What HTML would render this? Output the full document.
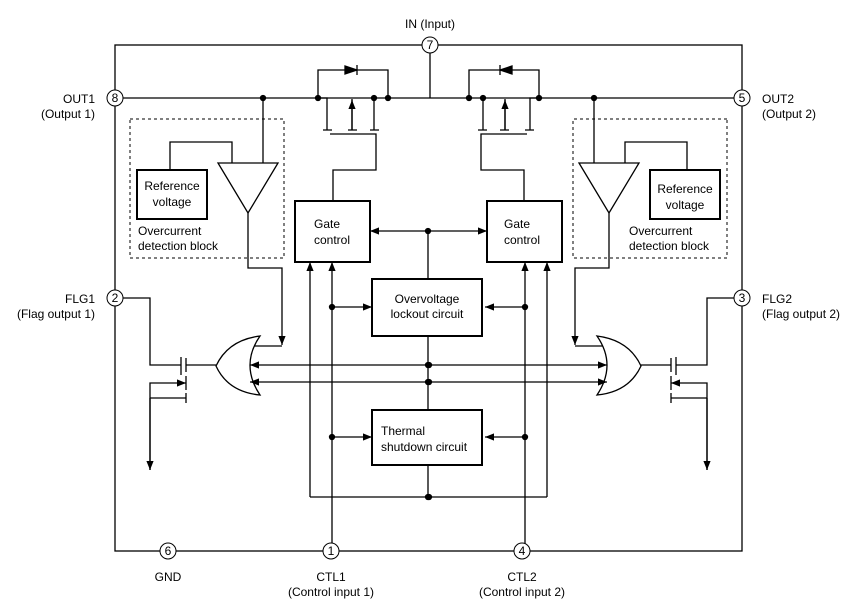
<!DOCTYPE html>
<html><head><style>
html,body{margin:0;padding:0;background:#fff;}
svg{display:block;font-family:"Liberation Sans",sans-serif;}
text{font-size:12px;fill:#000;}
</style></head><body>
<svg width="865" height="609" viewBox="0 0 865 609" xmlns="http://www.w3.org/2000/svg">
<defs>
<marker id="a" viewBox="0 0 10 10" refX="10" refY="5" markerWidth="9" markerHeight="9" markerUnits="userSpaceOnUse" orient="auto"><path d="M0,1 L10,5 L0,9z" fill="#000"/></marker>
<g id="side" fill="none" stroke="#000" stroke-width="1.3">
  <!-- dashed overcurrent block -->
  <rect x="130" y="119" width="154" height="139" stroke-dasharray="3,3" stroke-width="1"/>
  <rect x="137" y="170" width="70" height="49" stroke-width="2"/>
  <path d="M218,163 L278,163 L248,213 Z"/>
  <path d="M170,170 V142 H232 V163"/>
  <path d="M263,163 V98"/>
  <path d="M248,213 V268 H282 V345" marker-end="url(#a)"/>
  <!-- OR gate -->
  <path d="M260,336 Q240,365 260,395 Q228,392 216,366 Q228,340 260,336 Z" fill="#fff"/>
  <path d="M282,346 H254"/>
  <path d="M216,365 H186"/>
  <!-- transistor -->
  <path d="M181,357 V375"/>
  <path d="M186,358 V372 M186,376 V390 M186,393 V403"/>
  <path d="M115,298 H150 V365 H181"/>
  <path d="M150,470 V383 H186" marker-end="url(#a)"/>
  <path d="M150,398 H186"/>
  <path d="M150,398 V470" marker-end="url(#a)"/>
  <!-- gate control -->
  <rect x="295" y="201" width="75" height="61" stroke-width="2"/>
  <path d="M310,497 V262" marker-end="url(#a)"/>
  <path d="M332,551 V262" marker-end="url(#a)"/>
  <path d="M332,307 H372" marker-end="url(#a)"/>
  <path d="M332,437 H372" marker-end="url(#a)"/>
  <path d="M310,497 H428"/>
  <!-- MOSFET top -->
  <path d="M318,98 V70 H388 V98"/>
  <path d="M345,66 L357,70 L345,74 Z M357,65 V75" fill="#000"/>
  <path d="M318,98 H327 V130 M323,130 H332 M352,130 V99 M348,130 H357 M374,98 V130 M370,130 H379"/>
  <path d="M352,130 V100" marker-end="url(#a)"/>
  <path d="M330,134 H376 V170 H333 V201"/>
  <circle cx="318" cy="98" r="2.5" fill="#000"/>
  <circle cx="374" cy="98" r="2.5" fill="#000"/>
  <circle cx="388" cy="98" r="2.5" fill="#000"/>
  <circle cx="263" cy="98" r="2.5" fill="#000"/>
  <circle cx="332" cy="307" r="2.5" fill="#000"/>
  <circle cx="332" cy="437" r="2.5" fill="#000"/>
  <circle cx="428" cy="365" r="2.5" fill="#000"/>
  <circle cx="428" cy="382" r="2.5" fill="#000"/>
  <circle cx="428" cy="497" r="2.5" fill="#000"/>
  <path d="M428,365 H250" marker-end="url(#a)"/>
  <path d="M428,382 H250" marker-end="url(#a)"/>
  <path d="M428,231 H370" marker-end="url(#a)"/>
</g>
</defs>
<g fill="none" stroke="#000" stroke-width="1.3">
  <rect x="115" y="45" width="627" height="506"/>
  <path d="M115,98 H742"/>
  <path d="M430,45 V98"/>
  <rect x="372" y="279" width="110" height="57" stroke-width="2" fill="#fff"/>
  <rect x="372" y="410" width="110" height="55" stroke-width="2" fill="#fff"/>
  <path d="M428,231 V279 M428,336 V410 M428,465 V497"/>
  <circle cx="428" cy="231" r="2.5" fill="#000"/>
</g>
<use href="#side"/>
<use href="#side" transform="translate(857,0) scale(-1,1)"/>
<g fill="#fff" stroke="#000" stroke-width="1">
  <circle cx="430" cy="45" r="8"/><circle cx="115" cy="98" r="8"/><circle cx="742" cy="98" r="8"/>
  <circle cx="115" cy="298" r="8"/><circle cx="742" cy="298" r="8"/>
  <circle cx="168" cy="551" r="8"/><circle cx="331" cy="551" r="8"/><circle cx="522" cy="551" r="8"/>
</g>
<g text-anchor="middle">
  <text x="430" y="49">7</text><text x="115" y="102">8</text><text x="742" y="102">5</text>
  <text x="115" y="302">2</text><text x="742" y="302">3</text>
  <text x="168" y="555">6</text><text x="331" y="555">1</text><text x="522" y="555">4</text>
  <text x="430" y="28">IN (Input)</text>
  <text x="168" y="581">GND</text>
  <text x="331" y="581">CTL1</text><text x="331" y="596">(Control input 1)</text>
  <text x="522" y="581">CTL2</text><text x="522" y="596">(Control input 2)</text>
  <text x="172" y="190">Reference</text><text x="172" y="206">voltage</text>
  <text x="685" y="193">Reference</text><text x="685" y="209">voltage</text>
  <text x="427" y="303">Overvoltage</text><text x="427" y="318">lockout circuit</text>
</g>
<g text-anchor="end">
  <text x="95" y="103">OUT1</text><text x="95" y="118">(Output 1)</text>
  <text x="95" y="303">FLG1</text><text x="95" y="318">(Flag output 1)</text>
</g>
<text x="762" y="103">OUT2</text><text x="762" y="118">(Output 2)</text>
<text x="762" y="303">FLG2</text><text x="762" y="318">(Flag output 2)</text>
<text x="138" y="235">Overcurrent</text><text x="138" y="250">detection block</text>
<text x="629" y="235">Overcurrent</text><text x="629" y="250">detection block</text>
<text x="314" y="228">Gate</text><text x="314" y="244">control</text>
<text x="504" y="228">Gate</text><text x="504" y="244">control</text>
<text x="381" y="435">Thermal</text><text x="381" y="451">shutdown circuit</text>
</svg>
</body></html>
